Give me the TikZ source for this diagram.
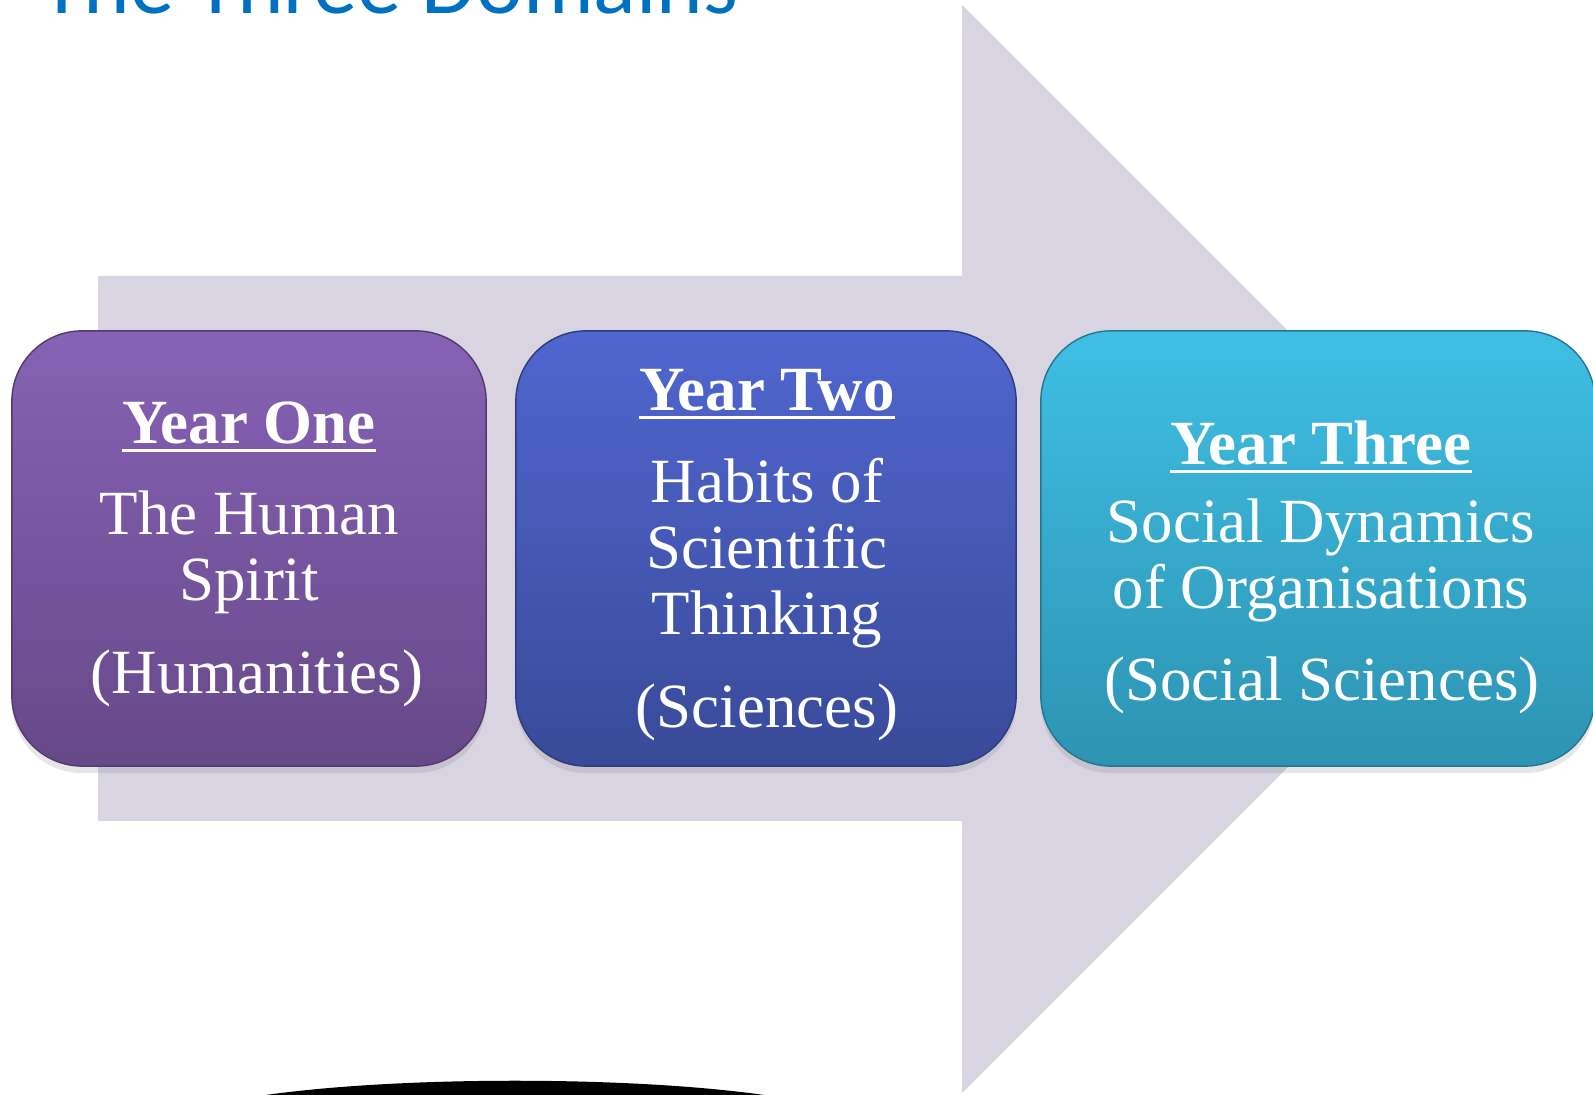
\documentclass[tikz,border=0pt]{standalone}
\usepackage{fontspec}
\setmainfont{Liberation Serif}
\newfontfamily\titlefont{Carlito}
\usetikzlibrary{shadows}
\definecolor{arrowgrey}{RGB}{216,212,226}
\definecolor{titleblue}{RGB}{0,112,192}
\definecolor{purptop}{RGB}{135,98,181}
\definecolor{purpbot}{RGB}{102,73,137}
\definecolor{bluetop}{RGB}{80,102,208}
\definecolor{bluebot}{RGB}{57,74,152}
\definecolor{cyantop}{RGB}{63,191,228}
\definecolor{cyanbot}{RGB}{45,147,178}
\newcommand{\ulhead}[1]{\setbox0=\hbox{\bfseries #1}\rlap{\rule[-2.4pt]{\wd0}{0.9pt}}\box0}

\begin{document}
\begin{tikzpicture}[x=0.01cm,y=-0.01cm,
    yearbox/.style = {rounded corners=20pt, inner sep=0pt, minimum height=4.35cm,
                      drop shadow={opacity=0.2,shadow xshift=0pt,shadow yshift=-2pt}},
    words/.style = {text=white, anchor=base, font=\fontsize{17.9}{20}\selectfont}]
    \useasboundingbox (0,0) rectangle (1593,1095);
    \clip (0,0) rectangle (1593,1095);

    % big arrow behind
    \fill[arrowgrey] (98,276) -- (962,276) -- (962,5) -- (1506,549)
        -- (962,1093) -- (962,821) -- (98,821) -- cycle;

    \node[anchor=base west, text=titleblue, font=\titlefont\fontsize{25.2}{28}\selectfont]
        (title) at (28,14) {The Three Domains};

    % the three years
    \node[yearbox, minimum width=4.74cm, top color=purptop, bottom color=purpbot,
          draw=purpbot!80!black] (one) at (249,548.5) {};
    \node[yearbox, minimum width=5cm, top color=bluetop, bottom color=bluebot,
          draw=bluebot!80!black] (two) at (766,548.5) {};
    \node[yearbox, minimum width=5.54cm, top color=cyantop, bottom color=cyanbot,
          draw=cyanbot!80!black] (three) at (1318,548.5) {};

    \node[words] (onehead) at (249,444) {\ulhead{Year One}};
    \node[words] (onea) at (249,535) {The Human};
    \node[words] (oneb) at (249,601) {Spirit};
    \node[words] (onesub) at (257,694) {(Humanities)};

    \node[words] (twohead) at (767,411) {\ulhead{Year Two}};
    \node[words] (twoa) at (767,503) {Habits of};
    \node[words] (twob) at (767,569) {Scientific};
    \node[words] (twoc) at (767,635) {Thinking};
    \node[words] (twosub) at (767,728) {(Sciences)};

    \node[words] (threehead) at (1321,465) {\ulhead{Year Three}};
    \node[words] (threea) at (1321,543) {Social Dynamics};
    \node[words] (threeb) at (1321,609) {of Organisations};
    \node[words] (threesub) at (1322,701) {(Social Sciences)};

    \fill[black] (266,1095) .. controls (400,1076) and (630,1076) .. (764,1095) -- cycle;
\end{tikzpicture}
\end{document}
